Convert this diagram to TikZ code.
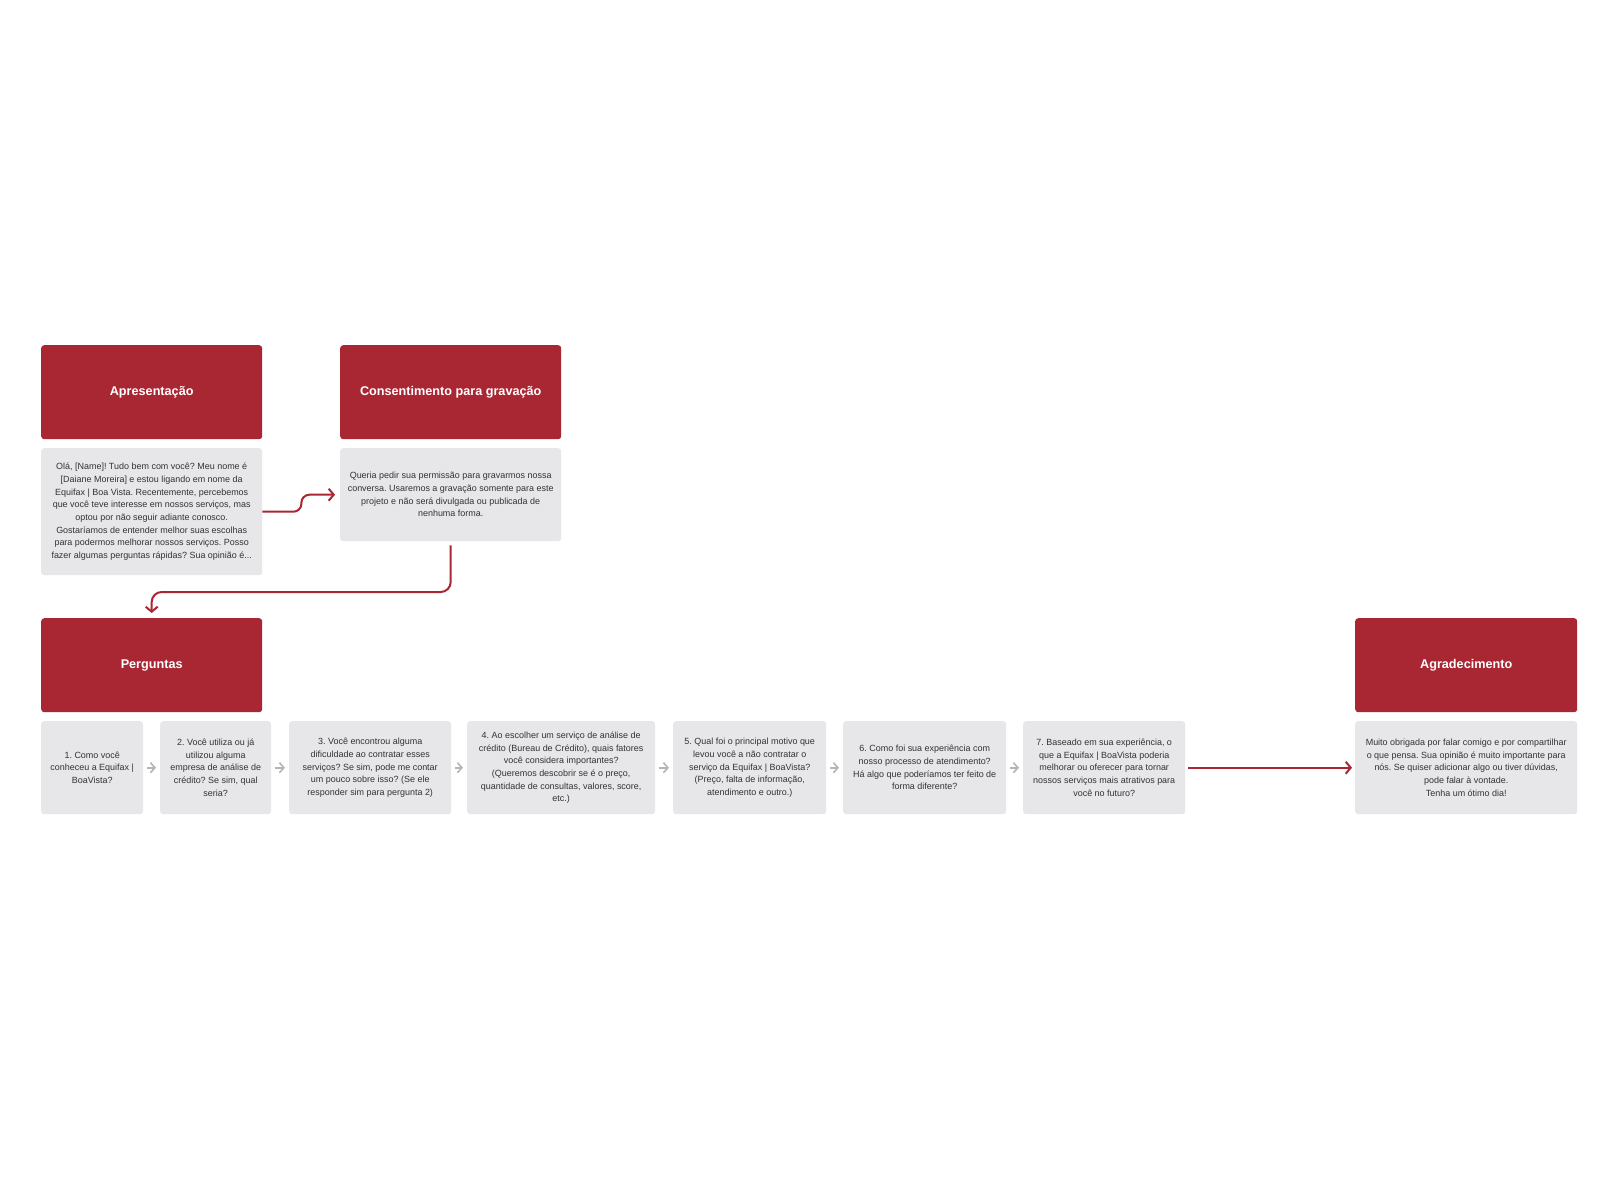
\documentclass[tikz,border=0pt]{standalone}
\usepackage{fontspec}
\setmainfont{Liberation Sans}
\frenchspacing
\usetikzlibrary{arrows.meta,calc}
\definecolor{myred}{HTML}{A92733}
\definecolor{mygray}{HTML}{E7E6E9}
\definecolor{mytext}{HTML}{333333}
\definecolor{myarrow}{HTML}{B5B5B5}
\tikzset{
  hdr/.style={fill=myred, rounded corners=3bp, text=white, font=\bfseries\fontsize{12.7}{15}\selectfont, inner sep=0pt, anchor=north west, minimum height=94bp},
  txt/.style={fill=mygray, rounded corners=3bp, text=mytext, font=\fontsize{9}{12.7}\selectfont, align=center, inner sep=0pt, anchor=north west, minimum height=93bp},
  redarrow/.style={draw=myred, line width=2bp, -{Straight Barb[length=5bp,width=12bp,line width=2bp]}},
  grayarrow/.style={draw=myarrow, line width=1.6bp, -{Straight Barb[length=4.5bp,width=10bp,line width=1.6bp]}, shorten <=4bp, shorten >=4bp}
}
\begin{document}
\begin{tikzpicture}[x=1bp,y=-1bp]
\useasboundingbox[fill=white] (0,0) rectangle (1600,1200);
% headers
\node[hdr, minimum width=221bp] (apr) at (41,345) {Apresentação};
\node[hdr, minimum width=221bp] (cons) at (340,345) {Consentimento para gravação};
\node[hdr, minimum width=221bp] (perg) at (41,618) {Perguntas};
\node[hdr, minimum width=222bp] (agr) at (1355,618) {Agradecimento};
% texts
\node[txt, minimum width=221bp, minimum height=127bp] (aprtext) at (41,448) {Olá, {[Name]}! Tudo bem com você? Meu nome é\\ {[Daiane Moreira]} e estou ligando em nome da\\ Equifax | Boa Vista. Recentemente, percebemos\\ que você teve interesse em nossos serviços, mas\\ optou por não seguir adiante conosco.\\ Gostaríamos de entender melhor suas escolhas\\ para podermos melhorar nossos serviços. Posso\\ fazer algumas perguntas rápidas? Sua opinião é...};
\node[txt, minimum width=221bp] (constext) at (340,448) {Queria pedir sua permissão para gravarmos nossa\\ conversa. Usaremos a gravação somente para este\\ projeto e não será divulgada ou publicada de\\ nenhuma forma.};
\node[txt, minimum width=102bp] (q1) at (41,721) {1. Como você\\ conheceu a Equifax |\\ BoaVista?};
\node[txt, minimum width=111bp] (q2) at (160,721) {2. Você utiliza ou já\\ utilizou alguma\\ empresa de análise de\\ crédito? Se sim, qual\\ seria?};
\node[txt, minimum width=162bp] (q3) at (289,721) {3. Você encontrou alguma\\ dificuldade ao contratar esses\\ serviços? Se sim, pode me contar\\ um pouco sobre isso? (Se ele\\ responder sim para pergunta 2)};
\node[txt, minimum width=188bp] (q4) at (467,721) {4. Ao escolher um serviço de análise de\\ crédito (Bureau de Crédito), quais fatores\\ você considera importantes?\\ (Queremos descobrir se é o preço,\\ quantidade de consultas, valores, score,\\ etc.)};
\node[txt, minimum width=153bp] (q5) at (673,721) {5. Qual foi o principal motivo que\\ levou você a não contratar o\\ serviço da Equifax | BoaVista?\\ (Preço, falta de informação,\\ atendimento e outro.)};
\node[txt, minimum width=163bp] (q6) at (843,721) {6. Como foi sua experiência com\\ nosso processo de atendimento?\\ Há algo que poderíamos ter feito de\\ forma diferente?};
\node[txt, minimum width=162bp] (q7) at (1023,721) {7. Baseado em sua experiência, o\\ que a Equifax | BoaVista poderia\\ melhorar ou oferecer para tornar\\ nossos serviços mais atrativos para\\ você no futuro?};
\node[txt, minimum width=222bp] (agrtext) at (1355,721) {Muito obrigada por falar comigo e por compartilhar\\ o que pensa. Sua opinião é muito importante para\\ nós. Se quiser adicionar algo ou tiver dúvidas,\\ pode falar à vontade.\\ Tenha um ótimo dia!};
% connectors
\draw[redarrow, rounded corners=8bp, shorten >=5bp] (aprtext.east) -- ++(39,0) |- (constext.west);
\draw[redarrow, rounded corners=10bp, shorten <=4bp, shorten >=5bp] (constext.south) |- ($(perg.north)+(0,-26)$) -- (perg.north);
\draw[grayarrow] (q1) -- (q2);
\draw[grayarrow] (q2) -- (q3);
\draw[grayarrow] (q3) -- (q4);
\draw[grayarrow] (q4) -- (q5);
\draw[grayarrow] (q5) -- (q6);
\draw[grayarrow] (q6) -- (q7);
\draw[redarrow, shorten <=3bp, shorten >=3bp] (q7) -- (agrtext);
\end{tikzpicture}
\end{document}
